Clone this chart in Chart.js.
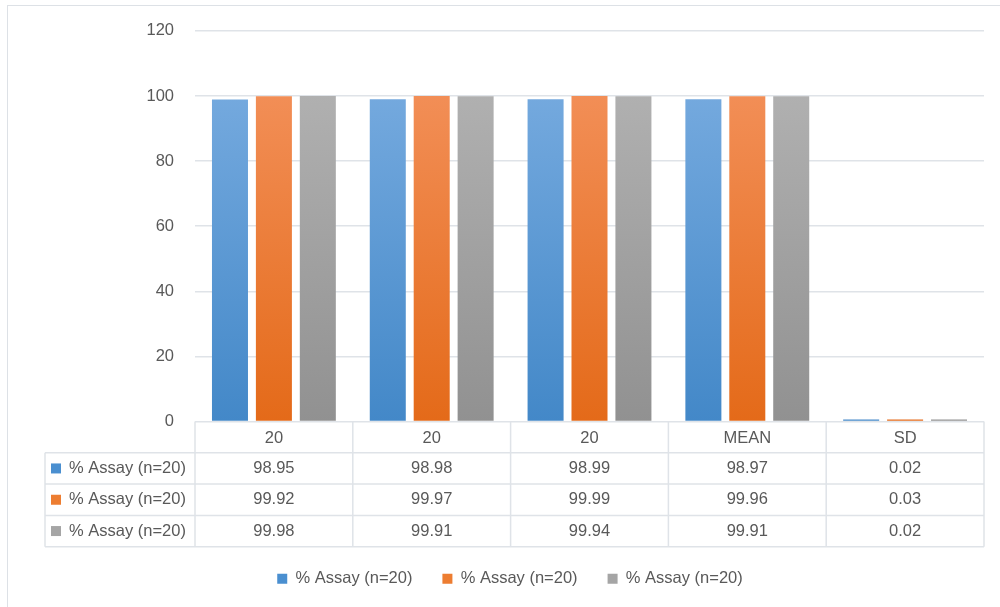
<!DOCTYPE html>
<html>
<head>
<meta charset="utf-8">
<script src="https://cdn.jsdelivr.net/npm/chart.js@4.4.1/dist/chart.umd.min.js"></script>
<style>
    html, body { margin: 0; padding: 0; background: #fff; overflow: hidden; }
    #wrap { position: relative; width: 1000px; height: 607px; }
    #frame { position: absolute; left: 7px; top: 5px; width: 1100px; height: 700px; border: 1px solid #dde1e6; }
    #chart { position: absolute; left: 0; top: 0; }
</style>
</head>
<body>
<div id="wrap">
    <div id="frame"></div>
    <canvas id="chart" width="1000" height="607"></canvas>
</div>
<script>
// chart data
const categories = ['20', '20', '20', 'MEAN', 'SD'];
const seriesNames = ['% Assay (n=20)', '% Assay (n=20)', '% Assay (n=20)'];
const assay1 = [98.95, 98.98, 98.99, 98.97, 0.02];
const assay2 = [99.92, 99.97, 99.99, 99.96, 0.03];
const assay3 = [99.98, 99.91, 99.94, 99.91, 0.02];
const yTicks = [0, 20, 40, 60, 80, 100, 120];

const FONT = "'Liberation Sans', Arial, sans-serif";
const FSIZE = 16.5;
const TEXT = '#595959';
const LINE = '#dfe3e8';
const PAD_LEFT = 36;

// top / bottom colours of the bar gradients
const colorPairs = [
    ['#74a9de', '#4388c8'],
    ['#f28e56', '#e46a19'],
    ['#b0b0b0', '#919191']
];
const solidColors = ['#4a8fd0', '#ed7d31', '#a5a5a5'];

function gradientFor(i) {
    return (context) => {
        const chart = context.chart;
        const area = chart.chartArea;
        if (!area) return solidColors[i];
        const y = chart.scales.y;
        const g = chart.ctx.createLinearGradient(0, y.getPixelForValue(100), 0, area.bottom);
        g.addColorStop(0, colorPairs[i][0]);
        g.addColorStop(1, colorPairs[i][1]);
        return g;
    };
}

// draws the data table under the x axis
const dataTable = {
    id: 'dataTable',
    afterDraw(chart) {
        const ctx = chart.ctx;
        const area = chart.chartArea;
        const x = chart.scales.x;
        const rows = [assay1, assay2, assay3];
        const rowH = 31.3;
        const labelLeft = 45;
        const top = area.bottom;
        const bottom = top + rowH * (rows.length + 1);

        const edges = [area.left];
        for (let i = 0; i < categories.length - 1; i++) {
            edges.push((x.getPixelForValue(i) + x.getPixelForValue(i + 1)) / 2);
        }
        edges.push(area.right);

        ctx.save();
        ctx.strokeStyle = LINE;
        ctx.lineWidth = 1.5;
        ctx.beginPath();
        // horizontal lines
        for (let r = 1; r <= rows.length + 1; r++) {
            const yy = top + rowH * r;
            ctx.moveTo(labelLeft, yy);
            ctx.lineTo(area.right, yy);
        }
        // vertical lines
        edges.forEach(ex => {
            ctx.moveTo(ex, top);
            ctx.lineTo(ex, bottom);
        });
        ctx.moveTo(labelLeft, top + rowH);
        ctx.lineTo(labelLeft, bottom);
        ctx.stroke();

        ctx.font = FSIZE + 'px ' + FONT;
        ctx.fillStyle = TEXT;
        ctx.textBaseline = 'middle';
        rows.forEach((vals, r) => {
            const cy = top + rowH * (r + 1.5);
            ctx.fillStyle = solidColors[r];
            ctx.fillRect(labelLeft + 6, cy - 5, 10, 10);
            ctx.fillStyle = TEXT;
            ctx.textAlign = 'left';
            ctx.fillText(seriesNames[r], labelLeft + 24, cy);
            ctx.textAlign = 'center';
            vals.forEach((v, c) => {
                ctx.fillText(v.toFixed(2), x.getPixelForValue(c), cy);
            });
        });
        ctx.restore();
    }
};

const datasets = [assay1, assay2, assay3].map((vals, i) => ({
    label: seriesNames[i],
    data: vals,
    backgroundColor: gradientFor(i),
    borderWidth: 0,
    minBarLength: 2,
    categoryPercentage: 0.835,
    barPercentage: 0.82
}));

new Chart(document.getElementById('chart'), {
    type: 'bar',
    data: { labels: categories, datasets: datasets },
    options: {
        responsive: false,
        animation: false,
        layout: { padding: { left: PAD_LEFT, right: 16, top: 27, bottom: 10 } },
        plugins: {
            tooltip: { enabled: false },
            legend: {
                position: 'bottom',
                labels: {
                    boxWidth: 10,
                    boxHeight: 10,
                    padding: 30,
                    color: TEXT,
                    font: { family: FONT, size: FSIZE },
                    generateLabels: (chart) => chart.data.datasets.map((d, i) => ({
                        text: d.label,
                        fillStyle: solidColors[i],
                        strokeStyle: solidColors[i],
                        lineWidth: 0,
                        datasetIndex: i,
                        fontColor: TEXT
                    }))
                }
            }
        },
        scales: {
            x: {
                grid: { display: false, drawTicks: false },
                border: { display: false },
                ticks: {
                    color: TEXT,
                    padding: 7,
                    maxRotation: 0,
                    font: { family: FONT, size: FSIZE }
                },
                afterFit: (scale) => { scale.height = 119; }
            },
            y: {
                min: 0,
                max: 120,
                afterBuildTicks: (scale) => { scale.ticks = yTicks.map(v => ({ value: v })); },
                grid: { color: LINE, lineWidth: 1.5, drawTicks: false },
                border: { display: false },
                ticks: {
                    color: TEXT,
                    padding: 21,
                    font: { family: FONT, size: FSIZE }
                },
                afterFit: (scale) => { scale.width = 195 - PAD_LEFT; }
            }
        }
    },
    plugins: [dataTable]
});
</script>
</body>
</html>
